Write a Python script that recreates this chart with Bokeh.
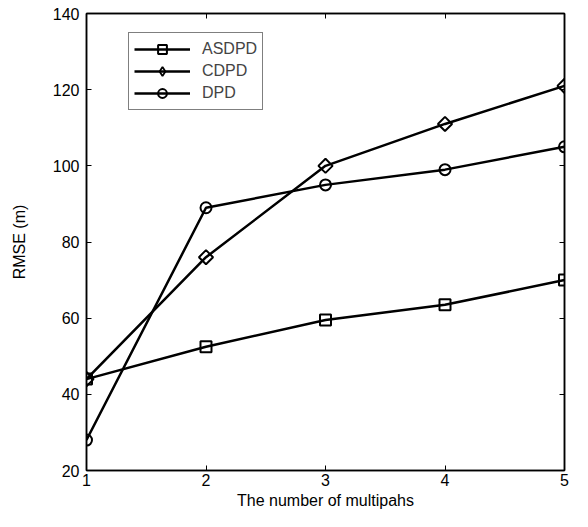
from bokeh.plotting import figure
from bokeh.models import LinearAxis, Legend, LegendItem, FixedTicker, Range1d
from bokeh.embed import file_html
from bokeh.resources import INLINE
import math

x_vals = [1, 2, 3, 4, 5]
asdpd = [44, 52.5, 59.5, 63.5, 70]
cdpd = [44, 76, 100, 111, 121]
dpd = [28, 89, 95, 99, 105]
x_ticks = [1, 2, 3, 4, 5]
y_ticks = [20, 40, 60, 80, 100, 120, 140]
series_names = ["ASDPD", "CDPD", "DPD"]

FONT = "Liberation Sans"
FS = "16px"

p = figure(width=572, height=511, output_backend="svg", toolbar_location=None,
           x_range=Range1d(1, 5), y_range=Range1d(20, 140),
           min_border_left=86, min_border_right=8, min_border_top=13, min_border_bottom=30)
p.xgrid.visible = False
p.ygrid.visible = False
p.outline_line_color = "black"
p.outline_line_width = 1.5
p.background_fill_color = "white"
p.border_fill_color = "white"

def style_axis(ax, show_labels=True):
    ax.major_tick_in = 5
    ax.major_tick_out = 0
    ax.minor_tick_in = 0
    ax.minor_tick_out = 0
    ax.axis_line_color = "black"
    ax.axis_line_width = 1.5
    ax.major_tick_line_color = "black"
    ax.major_tick_line_width = 1
    ax.major_label_text_font = FONT
    ax.major_label_text_color = "black"
    ax.axis_label_text_font = FONT
    ax.axis_label_text_font_style = "normal"
    ax.axis_label_text_color = "black"
    if show_labels:
        ax.major_label_text_font_size = FS
        ax.axis_label_text_font_size = FS
    else:
        ax.major_label_text_font_size = "0px"
        ax.major_label_standoff = 0

p.xaxis.ticker = FixedTicker(ticks=x_ticks)
p.yaxis.ticker = FixedTicker(ticks=y_ticks)
p.xaxis.axis_label = "The number of multipahs"
p.yaxis.axis_label = "RMSE (m)"
style_axis(p.xaxis[0])
style_axis(p.yaxis[0])
p.xaxis.major_label_standoff = 3
p.xaxis.axis_label_standoff = 3
p.yaxis.major_label_standoff = 7
p.yaxis.axis_label_standoff = 22

top_ax = LinearAxis(ticker=FixedTicker(ticks=x_ticks))
right_ax = LinearAxis(ticker=FixedTicker(ticks=y_ticks))
style_axis(top_ax, False)
style_axis(right_ax, False)
p.add_layout(top_ax, "above")
p.add_layout(right_ax, "right")

items = []
markers = [("square", 0.0, 11, "square", 2), ("square", math.pi / 4, 10, "diamond", 1.8),
           ("circle", 0.0, 11, "circle", 2)]
for name, ys, (mk, ang, sz, lmk, lw) in zip(series_names, [asdpd, cdpd, dpd], markers):
    ln = p.line(x_vals, ys, line_color="black", line_width=2.5)
    p.scatter(x_vals, ys, marker=mk, angle=ang, size=sz, line_color="black",
              line_width=2, fill_color=None)
    # hidden duplicate used only for the legend swatch
    proxy = p.scatter(x_vals, ys, marker=lmk, size=sz, line_color="black",
                      line_width=lw, fill_color=None, visible=False)
    items.append(LegendItem(label=name, renderers=[ln, proxy]))

legend = Legend(items=items)
legend.border_line_color = "black"
legend.border_line_width = 1.5
legend.background_fill_color = "white"
legend.background_fill_alpha = 1
legend.inactive_fill_alpha = 0
legend.label_text_font = FONT
legend.label_text_font_size = FS
legend.glyph_width = 56
legend.glyph_height = 22
legend.label_height = 22
legend.spacing = 0
legend.padding = 5
legend.label_standoff = 12
legend.margin = 0
p.add_layout(legend, "center")
legend.location = (42, 360)

open("out.html", "w").write(file_html(p, INLINE))
